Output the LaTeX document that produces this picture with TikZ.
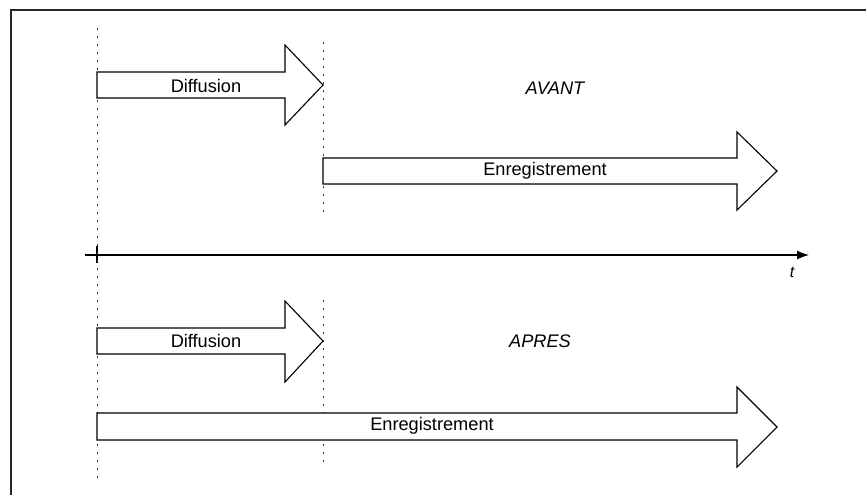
\documentclass[tikz,border=0pt]{standalone}
\usepackage{fontspec}
\setmainfont{Liberation Sans}
\usetikzlibrary{arrows.meta}
\tikzset{
  blockarrow/.style={draw=black,line width=0.55pt,fill=white,line join=miter},
  guide/.style={line width=0.5pt,dash pattern=on 1pt off 3pt,black!80},
  label/.style={font=\fontsize{9.1}{11}\selectfont,inner sep=0pt},
}
\begin{document}
\begin{tikzpicture}[x=0.5pt,y=-0.5pt,>={Latex[length=6pt,width=4.5pt]}]
\useasboundingbox (0,0) rectangle (866,495);
%% frame
\draw [line width=1pt,black!85] (11,495) -- (11,10) -- (866,10);
%% time axis
\coordinate (axis_start) at (85,255);
\coordinate (axis_end) at (809,255);
\draw [line width=0.55pt,->] (axis_start) -- (axis_end);
\draw [line width=0.55pt] (97,246) -- (97,263);
\node (t) at (792,272) [label,font=\fontsize{8}{10}\selectfont\itshape] {t};
%% guides
\draw [guide] (97,28) -- (97,480);
\draw [guide] (323,42) -- (323,215);
\draw [guide] (323,300) -- (323,466);
%% avant
\draw [blockarrow] (97,72) -- (285,72) -- (285,45) -- (323,85) -- (285,125) -- (285,98) -- (97,98) -- cycle;
\node (diff_avant) at (206,86) [label] {Diffusion};
\draw [blockarrow] (323,158) -- (737,158) -- (737,132) -- (777,171) -- (737,210) -- (737,184) -- (323,184) -- cycle;
\node (enr_avant) at (545,171) [label] {Enregistrement};
\node (avant) at (555,88) [label,font=\fontsize{9.1}{11}\selectfont\itshape] {AVANT};
%% apres
\draw [blockarrow] (97,328) -- (285,328) -- (285,301) -- (323,341) -- (285,382) -- (285,354) -- (97,354) -- cycle;
\node (diff_apres) at (206,341) [label] {Diffusion};
\draw [blockarrow] (97,413) -- (737,413) -- (737,387) -- (777,427) -- (737,467) -- (737,440) -- (97,440) -- cycle;
\node (enr_apres) at (432,426) [label] {Enregistrement};
\node (apres) at (540,341) [label,font=\fontsize{9.1}{11}\selectfont\itshape] {APRES};
%
\end{tikzpicture}
\end{document}
